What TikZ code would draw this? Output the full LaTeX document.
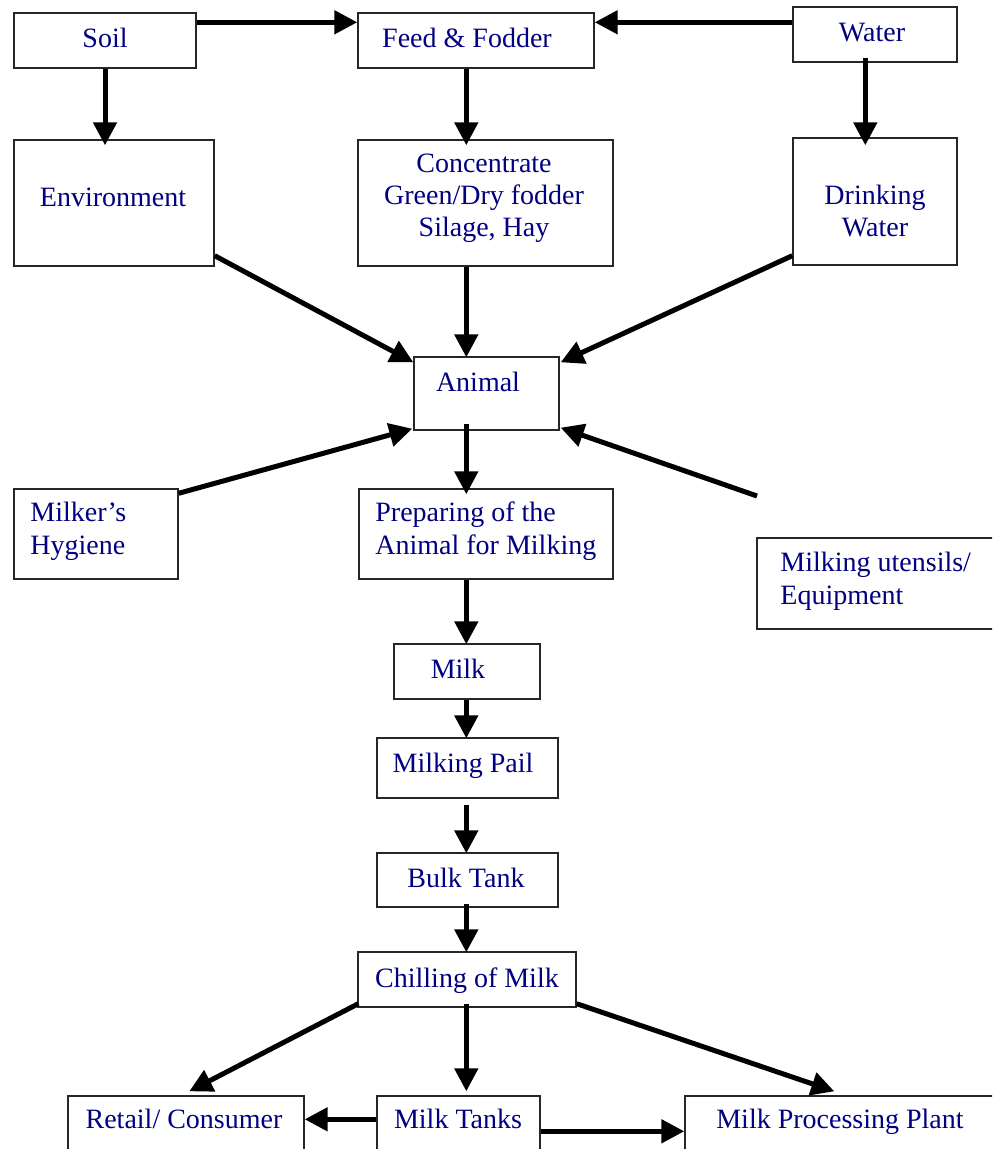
\documentclass[tikz,border=0pt]{standalone}
\usepackage{fontspec}
\setmainfont{Liberation Serif}
\usetikzlibrary{arrows.meta,calc,fit}
\definecolor{navyblue}{RGB}{0,0,128}
\begin{document}
\begin{tikzpicture}[x=0.5pt,y=-0.5pt,
  box/.style={draw=black!85,line width=0.7pt,inner sep=0pt},
  txt/.style={text=navyblue,font=\fontsize{14}{16.2}\selectfont,inner sep=0pt,anchor=base,align=center},
  txtl/.style={txt,anchor=base west,align=left},
  arr/.style={line width=2.5pt,-{Triangle[length=11.5pt,width=11.5pt]}}]
\useasboundingbox (0,0) rectangle (992,1149);
\clip (0,0) rectangle (992,1149);
% boxes
\node[box,fit={(14,13)(196,68)}] (soil) {};
\node[box,fit={(358,13)(594,68)}] (feed) {};
\node[box,fit={(793,7)(957,62)}] (water) {};
\node[box,fit={(14,140)(214,266)}] (env) {};
\node[box,fit={(358,140)(613,266)}] (conc) {};
\node[box,fit={(793,138)(957,265)}] (drink) {};
\node[box,fit={(414,357)(559,430)}] (anim) {};
\node[box,fit={(14,489)(178,579)}] (hyg) {};
\node[box,fit={(359,489)(613,579)}] (prep) {};
\node[box,fit={(757,538)(1000,629)}] (uten) {};
\node[box,fit={(394,644)(540,699)}] (milk) {};
\node[box,fit={(377,738)(558,798)}] (pail) {};
\node[box,fit={(377,853)(558,907)}] (bulk) {};
\node[box,fit={(358,952)(576,1007)}] (chill) {};
\node[box,fit={(68,1096)(304,1170)}] (retail) {};
\node[box,fit={(377,1096)(540,1170)}] (tanks) {};
\node[box,fit={(685,1096)(1000,1170)}] (proc) {};
% texts (base anchor = baseline of last line)
\node[txt] (soilT) at (105,48) {Soil};
\node[txt] (feedT) at (467,48) {Feed \& Fodder};
\node[txt] (waterT) at (872,42) {Water};
\node[txt] (envT) at (113,207) {Environment};
\node[txt] (concT) at (484,237) {Concentrate\\Green/Dry fodder\\Silage, Hay};
\node[txt] (drinkT) at (875,237) {Drinking\\Water};
\node[txt] (animT) at (478,392) {Animal};
\node[txtl] (hygT) at (30,554) {Milker’s\\Hygiene};
\node[txtl] (prepT) at (375,554) {Preparing of the\\Animal for Milking};
\node[txtl] (utenT) at (780,604) {Milking utensils/\\Equipment};
\node[txt] (milkT) at (458,678) {Milk};
\node[txt] (pailT) at (463,772) {Milking Pail};
\node[txt] (bulkT) at (466,887) {Bulk Tank};
\node[txt] (chillT) at (467,987) {Chilling of Milk};
\node[txt] (retailT) at (184,1128) {Retail/ Consumer};
\node[txt] (tanksT) at (458,1128) {Milk Tanks};
\node[txt] (procT) at (840,1128) {Milk Processing Plant};
% connectors
\coordinate (utenEnd) at (757,496);
\draw[arr] ($(soil.north east)+(0,10)$) -- ($(feed.north west)+(0,10)$);
\draw[arr] ($(water.north west)+(0,16)$) -- ($(feed.north east)+(0,10)$);
\draw[arr] (soil.south) -- ($(soil.south |- env.north)+(0,6)$);
\draw[arr] ($(feed.south west)+(109,0)$) -- ($(conc.north west)+(109,6)$);
\draw[arr] ($(water.south west)+(73,-5)$) -- ($(drink.north west)+(73,8)$);
\draw[arr] ($(env.south east)+(0,-11)$) -- ($(anim.north west)+(0,6)$);
\draw[arr] ($(conc.south west)+(109,0)$) -- ($(anim.north west)+(53,1)$);
\draw[arr] ($(drink.south west)+(0,-10)$) -- ($(anim.north east)+(1,6)$);
\draw[arr] ($(hyg.north east)+(0,5)$) -- ($(anim.south west)+(-1,-2)$);
\draw[arr] (utenEnd) -- ($(anim.south east)+(1,-3)$);
\draw[arr] ($(anim.south west)+(53,-7)$) -- ($(prep.north west)+(108,6)$);
\draw[arr] ($(prep.south west)+(108,0)$) -- ($(milk.north west)+(73,1)$);
\draw[arr] ($(milk.south west)+(73,0)$) -- ($(pail.north west)+(90,1)$);
\draw[arr] ($(pail.south west)+(90,6)$) -- ($(bulk.north west)+(90,1)$);
\draw[arr] ($(bulk.south west)+(90,-4)$) -- ($(chill.north west)+(109,1)$);
\draw[arr] ($(chill.south west)+(109,-4)$) -- ($(tanks.north west)+(90,-4)$);
\draw[arr] ($(chill.south west)+(1,-4)$) -- ($(retail.north west)+(122,-4)$);
\draw[arr] ($(chill.south east)+(0,-4)$) -- ($(proc.north west)+(150,-4)$);
\draw[arr] ($(tanks.north west)+(0,24)$) -- ($(retail.north east)+(0,24)$);
\draw[arr] ($(tanks.north east)+(0,36)$) -- ($(proc.north west)+(0,36)$);
\end{tikzpicture}
\end{document}
